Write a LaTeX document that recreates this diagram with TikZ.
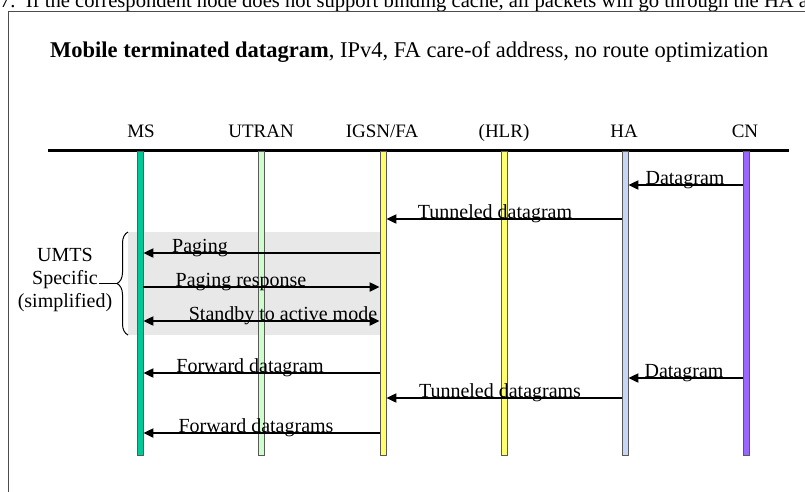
\documentclass[tikz,border=0pt]{standalone}
\usepackage{fontspec}
\setmainfont{Liberation Serif}
\usetikzlibrary{arrows.meta,decorations.pathreplacing}
\definecolor{msc}{HTML}{00C896}
\definecolor{utc}{HTML}{CCFFCC}
\definecolor{igc}{HTML}{FFFF66}
\definecolor{hlc}{HTML}{FFFF70}
\definecolor{hac}{HTML}{C6D6F4}
\definecolor{cnc}{HTML}{9966FF}
\definecolor{boxg}{HTML}{E8E8E8}
\begin{document}
\begin{tikzpicture}[x=1pt,y=-1pt,
  lifeline/.style={draw=black!65, line width=0.8pt, minimum width=6pt, minimum height=304pt, inner sep=0pt, anchor=north},
  msg/.style={line width=2pt, -{Triangle[length=10pt,width=9pt]}},
  dmsg/.style={line width=2pt, {Triangle[length=10pt,width=9pt]}-{Triangle[length=10pt,width=9pt]}},
  lbl/.style={font=\fontsize{20}{24}\selectfont, anchor=base, inner sep=0pt},
  hdr/.style={font=\fontsize{19}{22}\selectfont, anchor=base, inner sep=0pt}]
\useasboundingbox (0,0) rectangle (805,491);
\clip (0,0) rectangle (805,491);
\fill[white] (0,0) rectangle (805,491);
% top cut text
\node[anchor=base west, inner sep=0pt, font=\fontsize{20.6}{24}\selectfont] (toptext) at (0,7) {7.\ \ If the correspondent node does not support binding cache, all packets will go through the HA a};
% frame
\draw[black!70, line width=1pt] (8,11) rectangle (830,520);
% title
\node[anchor=base west, inner sep=0pt, font=\fontsize{22.5}{26}\selectfont] (title) at (50,57) {\textbf{Mobile terminated datagram}, IPv4, FA care-of address, no route optimization};
% header labels
\node[hdr] (lms) at (141,137) {MS};
\node[hdr] (lut) at (261,137) {UTRAN};
\node[hdr] (lig) at (382,137) {IGSN/FA};
\node[hdr] (lhl) at (504,137) {(HLR)};
\node[hdr] (lha) at (624,137) {HA};
\node[hdr] (lcn) at (745,137) {CN};
\draw[line width=3pt] (48,150) -- (789,150);
% grey UMTS box
\fill[boxg] (128,232) rectangle (380,335);
% lifelines
\node[lifeline, fill=msc] (ms) at (140,151) {};
\node[lifeline, fill=utc] (ut) at (261,151) {};
\node[lifeline, fill=igc] (ig) at (383,151) {};
\node[lifeline, fill=hlc] (hl) at (504,151) {};
\node[lifeline, fill=hac] (ha) at (625,151) {};
\node[lifeline, fill=cnc] (cn) at (746,151) {};
% brace
\draw[decorate, decoration={brace, amplitude=11pt}, line width=1pt] (128,335) -- coordinate[pos=0.5, xshift=-11pt] (bt) (128,232);
\node[font=\fontsize{20}{23}\selectfont, align=center, inner sep=0pt] (umts) at (65,280) {UMTS\\Specific\\(simplified)};
\coordinate (sp) at (99,283.5);
\draw[line width=1pt] (sp) -- (bt);
% messages
\draw[msg] (cn.west |- 0,185) -- (ha.east |- 0,185);
\node[lbl] (m1) at (685,184) {Datagram};
\draw[msg] (ha.west |- 0,219) -- (ig.east |- 0,219);
\node[lbl] (m2) at (495,218) {Tunneled datagram};
\draw[msg] (ig.west |- 0,253) -- (ms.east |- 0,253);
\node[lbl] (m3) at (200,252) {Paging};
\draw[msg] (ms.east |- 0,287) -- (ig.west |- 0,287);
\node[lbl] (m4) at (241,286) {Paging response};
\draw[dmsg] (ms.east |- 0,321) -- (ig.west |- 0,321);
\node[lbl] (m5) at (283,320) {Standby to active mode};
\draw[msg] (ig.west |- 0,373) -- (ms.east |- 0,373);
\node[lbl] (m6) at (250,372) {Forward datagram};
\draw[msg] (cn.west |- 0,378) -- (ha.east |- 0,378);
\node[lbl] (m7) at (684,377) {Datagram};
\draw[msg] (ha.west |- 0,398) -- (ig.east |- 0,398);
\node[lbl] (m8) at (500,397) {Tunneled datagrams};
\draw[msg] (ig.west |- 0,433) -- (ms.east |- 0,433);
\node[lbl] (m9) at (256,432) {Forward datagrams};
\end{tikzpicture}
\end{document}
